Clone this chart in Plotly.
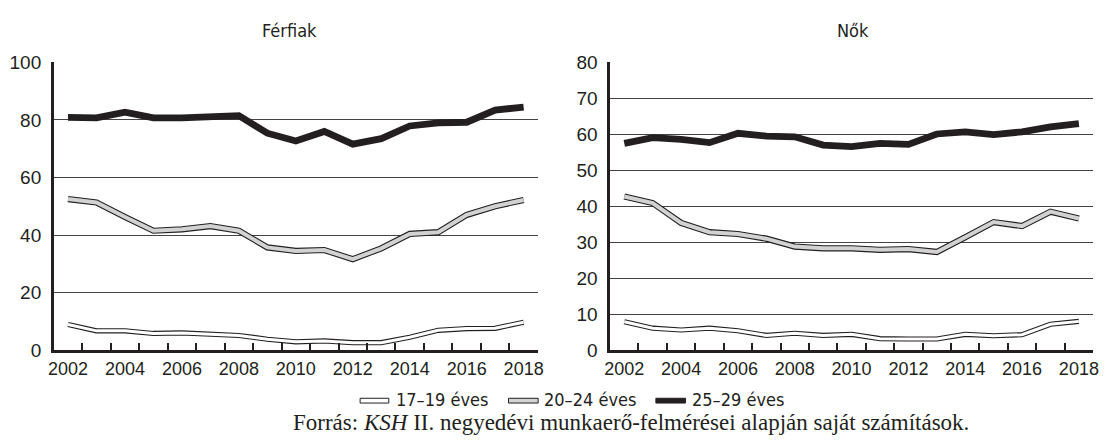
import plotly.graph_objects as go

W, H = 1107, 445

years = list(range(2002, 2019))
series_names = ["17\u201319 éves", "20\u201324 éves", "25\u201329 éves"]
panel_titles = ["Férfiak", "Nők"]

# Férfiak (men)
men_17_19 = [8.9, 6.7, 6.7, 5.8, 6.0, 5.6, 5.1, 3.8, 2.9, 3.2, 2.6, 2.6, 4.5, 6.9, 7.5, 7.6, 9.7]
men_20_24 = [52.5, 51.3, 46.3, 41.5, 42.0, 43.1, 41.5, 35.7, 34.5, 34.8, 31.6, 35.4, 40.4, 41.0, 47.0, 50.0, 52.2]
men_25_29 = [80.9, 80.7, 82.7, 80.7, 80.7, 81.3, 81.5, 75.4, 72.7, 76.0, 71.6, 73.5, 77.9, 79.0, 79.2, 83.4, 84.5]

# Nők (women)
women_17_19 = [7.9, 6.1, 5.6, 6.1, 5.4, 4.1, 4.7, 4.1, 4.4, 3.2, 3.1, 3.1, 4.4, 4.0, 4.3, 7.2, 8.0]
women_20_24 = [42.7, 40.9, 35.4, 32.8, 32.3, 31.0, 28.8, 28.3, 28.3, 27.9, 28.1, 27.3, 31.4, 35.6, 34.5, 38.5, 36.6]
women_25_29 = [57.5, 59.1, 58.6, 57.7, 60.3, 59.5, 59.3, 57.0, 56.6, 57.5, 57.2, 60.1, 60.7, 59.9, 60.7, 62.1, 63.0]

caption = "Forrás: <i>KSH</i> II. negyedévi munkaerő-felmérései alapján saját számítások."

BLACK = "#231f20"
GRAY = "#d2d2d2"
WHITE = "#ffffff"
GRID = "#444444"
COND = "DejaVu Sans Condensed, sans-serif"
SANS = "Liberation Sans, Arial, sans-serif"
SERIF = "Liberation Serif, serif"

def px(x):
    return x / W

def py(y):
    return 1 - y / H

left_dom = [px(48.3), px(537.7)]
right_dom = [px(610.7), px(1099)]
y_dom = [py(357), py(55)]

fig = go.Figure()

styles = [
    (WHITE, 5.2, 3.0),
    (GRAY, 6.2, 4.0),
    (BLACK, 6.8, None),
]

panels = [
    ("x", "y", [men_17_19, men_20_24, men_25_29]),
    ("x2", "y2", [women_17_19, women_20_24, women_25_29]),
]

for xa, ya, data in panels:
    for (fill, outer_w, inner_w), vals, name in zip(styles, data, series_names):
        fig.add_trace(go.Scatter(
            x=years, y=vals, mode="lines", name=name, showlegend=False,
            line=dict(color=BLACK, width=outer_w), xaxis=xa, yaxis=ya))
        if inner_w:
            fig.add_trace(go.Scatter(
                x=years, y=vals, mode="lines", name=name, showlegend=False,
                line=dict(color=fill, width=inner_w), xaxis=xa, yaxis=ya))

xrange = [years[0] - 0.5, years[-1] + 0.5]

def xaxis(domain, anchor):
    return dict(domain=domain, anchor=anchor, range=xrange,
                tickmode="linear", tick0=years[0], dtick=2, tickformat="d",
                ticks="inside", ticklen=7, tickwidth=2, tickcolor="rgba(0,0,0,0)",
                showgrid=False, zeroline=False,
                showline=True, linecolor=BLACK, linewidth=2.5,
                ticklabelstandoff=0,
                tickfont=dict(family=SANS, size=18, color=BLACK),
                minor=dict(tickmode="linear", tick0=years[0] - 0.5, dtick=1,
                           ticks="inside", ticklen=7, tickwidth=2,
                           tickcolor=BLACK, showgrid=False))

def yaxis(domain, anchor, rng, dtick):
    return dict(domain=domain, anchor=anchor, range=rng, dtick=dtick,
                tick0=0, ticks="", showgrid=True, gridcolor=GRID, gridwidth=1,
                zeroline=False, showline=True, linecolor=BLACK, linewidth=2.5,
                ticklabelstandoff=6,
                tickfont=dict(family=SANS, size=19, color=BLACK))

fig.update_layout(
    width=W, height=H,
    margin=dict(l=0, r=0, t=0, b=0),
    paper_bgcolor="white", plot_bgcolor="white",
    showlegend=False,
    xaxis=xaxis(left_dom, "y"),
    xaxis2=xaxis(right_dom, "y2"),
    yaxis=yaxis(y_dom, "x", [0, 100], 20),
    yaxis2=yaxis(y_dom, "x2", [0, 80], 10),
)

annotations = []
for title, cx in zip(panel_titles, [287, 856]):
    annotations.append(dict(text=title, x=px(cx), y=py(22), xref="paper", yref="paper",
                            xanchor="center", yanchor="middle", showarrow=False,
                            font=dict(family=COND, size=18, color=BLACK)))

# manual legend
legend_sym = [(358, 387), (508, 538), (657, 687)]
legend_txt = [392, 542, 691]
legend_fill = [WHITE, GRAY, BLACK]
shapes = []
for (x0, x1), tx, name, fc in zip(legend_sym, legend_txt, series_names, legend_fill):
    shapes.append(dict(type="rect", xref="paper", yref="paper",
                       x0=px(x0), x1=px(x1), y0=py(412.5), y1=py(407.5),
                       fillcolor=fc, line=dict(color=BLACK, width=1)))
    annotations.append(dict(text=name, x=px(tx), y=py(409), xref="paper", yref="paper",
                            xanchor="left", yanchor="middle", showarrow=False,
                            font=dict(family=COND, size=18, color=BLACK)))

annotations.append(dict(text=caption, x=px(288), y=py(433), xref="paper", yref="paper",
                        xanchor="left", yanchor="middle", showarrow=False,
                        font=dict(family=SERIF, size=23, color=BLACK)))

fig.update_layout(annotations=annotations, shapes=shapes)

fig.write_html(
    "out.html",
    config={"displayModeBar": False},
    post_script="document.body.style.margin='0';document.body.style.overflow='hidden';",
)
